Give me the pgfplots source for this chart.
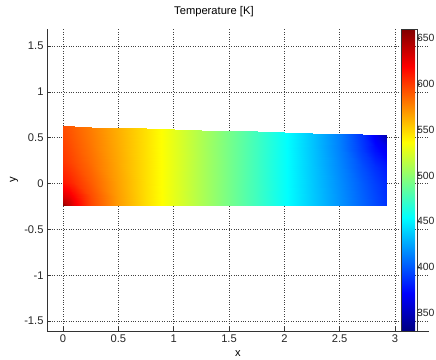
\documentclass[border=0pt]{standalone}
\usepackage{fontspec}
\setmainfont{Liberation Sans}
\usepackage{pgfplots}
\pgfplotsset{compat=1.18}
\newcommand{\mf}{\fontsize{11.2}{13}\selectfont}
\newcommand{\cf}{\fontsize{10.5}{13}\selectfont}
\pgfplotstableread{
x y T
0 -0.242 660.0
0 -0.190 641.4
0 -0.138 630.6
0 0.019 612.1
0 0.236 601.9
0 0.453 597.0
0 0.627 594.2
0.05 -0.242 638.6
0.05 -0.190 633.3
0.05 -0.138 625.0
0.05 0.018 608.3
0.05 0.235 598.3
0.05 0.452 593.6
0.05 0.625 591.0
0.1 -0.242 624.9
0.1 -0.190 622.1
0.1 -0.138 617.0
0.1 0.018 603.6
0.1 0.234 594.7
0.1 0.450 590.3
0.1 0.624 587.8
0.25 -0.242 596.6
0.25 -0.190 595.7
0.25 -0.139 594.3
0.25 0.016 589.0
0.25 0.231 583.3
0.25 0.446 580.0
0.25 0.619 578.1
0.5 -0.242 568.5
0.5 -0.191 568.2
0.5 -0.140 567.8
0.5 0.014 566.4
0.5 0.227 564.5
0.5 0.440 563.0
0.5 0.610 562.0
0.75 -0.242 546.9
0.75 -0.191 546.8
0.75 -0.141 546.7
0.75 0.011 546.4
0.75 0.222 546.2
0.75 0.433 545.9
0.75 0.602 545.8
1.0 -0.242 528
1.0 -0.192 528
1.0 -0.142 528
1.0 0.009 528
1.0 0.217 528
1.0 0.426 528
1.0 0.593 528
1.25 -0.242 510
1.25 -0.192 510
1.25 -0.143 510
1.25 0.006 510
1.25 0.213 510
1.25 0.419 510
1.25 0.585 510
1.5 -0.242 492
1.5 -0.193 492
1.5 -0.144 492
1.5 0.003 492
1.5 0.208 492
1.5 0.412 492
1.5 0.576 492
1.75 -0.242 474
1.75 -0.193 474
1.75 -0.145 474
1.75 0.001 474
1.75 0.203 474
1.75 0.406 474
1.75 0.568 474
2.0 -0.242 456
2.0 -0.194 456
2.0 -0.146 456
2.0 -0.002 456
2.0 0.199 456
2.0 0.399 456
2.0 0.559 456
2.25 -0.242 437.3
2.25 -0.194 437.1
2.25 -0.147 437.0
2.25 -0.004 436.5
2.25 0.194 435.8
2.25 0.392 435.1
2.25 0.551 435.0
2.5 -0.242 418.7
2.5 -0.195 418.4
2.5 -0.148 418.2
2.5 -0.007 417.1
2.5 0.189 414.9
2.5 0.385 412.5
2.5 0.542 411.8
2.7 -0.242 403.8
2.7 -0.195 403.4
2.7 -0.149 403.0
2.7 -0.009 401.2
2.7 0.185 396.9
2.7 0.380 390.3
2.7 0.535 387.3
2.82 -0.242 395.0
2.82 -0.196 394.6
2.82 -0.149 394.1
2.82 -0.010 392.0
2.82 0.183 386.4
2.82 0.376 375.5
2.82 0.531 367.4
2.925 -0.242 387.3
2.925 -0.196 386.9
2.925 -0.150 386.4
2.925 -0.011 384.2
2.925 0.181 378.2
2.925 0.374 365.1
2.925 0.528 344.4
}\tempfield
\begin{document}
\begin{tikzpicture}
\useasboundingbox (0,0) rectangle (436bp,360bp);
\clip (0,0) rectangle (436bp,360bp);
\fill[white] (0,0) rectangle (436bp,360bp);
\begin{axis}[
  at={(47bp,29bp)}, anchor=south west,
  width=382bp, height=302bp, scale only axis,
  xmin=-0.1446, xmax=3.307, ymin=-1.609, ymax=1.685,
  axis x line*=bottom, axis y line*=left,
  axis line style={-, line width=0.6bp, black!80},
  xtick={0,0.5,1,1.5,2,2.5,3}, xticklabels={0,0.5,1,1.5,2,2.5,3},
  ytick={-1.5,-1,-0.5,0,0.5,1,1.5}, yticklabels={-1.5,-1,-0.5,0,0.5,1,1.5},
  tick align=inside, major tick length=4bp,
  tick style={black!80, line width=0.5bp},
  grid=major, major grid style={dotted, black!75, line width=0.5bp},
  every tick label/.append style={font=\mf, text=black!85},
  xlabel={x}, ylabel={y}, title={Temperature [K]},
  xlabel style={font=\mf, at={(axis description cs:0.5,-0.0828)}, anchor=base},
  ylabel style={font=\mf, at={(axis description cs:-0.0812,0.5)}, anchor=base},
  title style={font=\mf, at={(axis description cs:0.437,1.0298)}, anchor=base},
  colormap/jet,
  point meta min=330, point meta max=660,
  colorbar,
  colorbar shift/.style={},
  colorbar style={
    at={(401bp,29bp)}, anchor=south west,
    width=16bp, height=302bp, scale only axis,
    ymin=330, ymax=660,
    ytick={350,400,450,500,550,600,650},
    yticklabels={350,400,450,500,550,600,650},
    yticklabel pos=right, ytick pos=right,
    tick align=outside, major tick length=3bp,
    yticklabel style={font=\cf, inner sep=0.3bp, xshift=-3.5bp, text=black!85},
    axis line style={line width=0.6bp, black!80},
  },
]
\addplot[surf, shader=interp, mesh/cols=7, point meta=\thisrow{T}] table {\tempfield};
\end{axis}
\end{tikzpicture}
\end{document}
